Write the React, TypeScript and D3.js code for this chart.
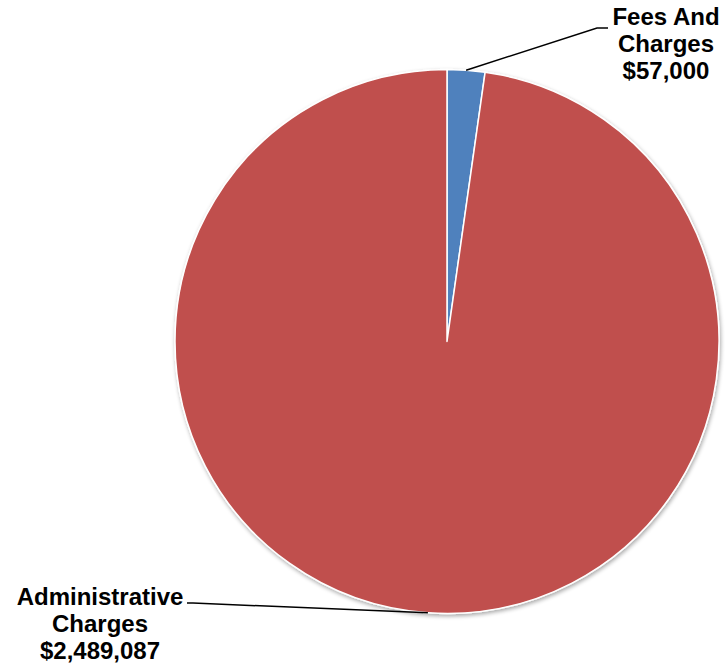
import React from "react";
import * as d3 from "d3";

const categories = ["Fees And Charges", "Administrative Charges"];
const values = [57000, 2489087];
const labelLines = [["Fees And", "Charges", "$57,000"], ["Administrative", "Charges", "$2,489,087"]];
const colors = ["#4F81BD", "#C0504D"];

export default function App() {
  const W = 725, H = 664;
  const cx = 447, cy = 341.5, r = 272;
  const pie = d3.pie<number>().sort(null).value((d) => d);
  const arcs = pie(values);
  const arc = d3.arc<d3.PieArcDatum<number>>().innerRadius(0).outerRadius(r);
  const edge = (a: d3.PieArcDatum<number>) => {
    const m = (a.startAngle + a.endAngle) / 2;
    return [cx + r * Math.sin(m), cy - r * Math.cos(m)];
  };
  const labelPos = [
    { x: 666, y: 25, line: (p: number[]) => `M${p[0]},${p[1]}L597,28L608,28` },
    { x: 100, y: 605, line: (p: number[]) => `M${p[0]},${p[1]}L193,603L187,603` },
  ];
  return (
    <svg width={W} height={H} style={{ position: "absolute", left: 0, top: 0 }}>
      <defs>
        <filter id="sh" x="-10%" y="-10%" width="120%" height="120%">
          <feGaussianBlur in="SourceAlpha" stdDeviation="2" />
          <feOffset dx="1" dy="2" result="b" />
          <feComponentTransfer><feFuncA type="linear" slope="0.35" /></feComponentTransfer>
          <feMerge><feMergeNode /><feMergeNode in="SourceGraphic" /></feMerge>
        </filter>
      </defs>
      <rect width={W} height={H} fill="#fff" />
      <g transform={`translate(${cx},${cy})`} filter="url(#sh)">
        {arcs.map((a, i) => (
          <path key={categories[i]} d={arc(a) || ""} fill={colors[i]} stroke="#fff" strokeWidth={1.5} strokeLinejoin="round" />
        ))}
      </g>
      {arcs.map((a, i) => (
        <path key={"l" + i} d={labelPos[i].line(edge(a))} fill="none" stroke="#000" strokeWidth={1.5} />
      ))}
      {labelLines.map((lines, i) => (
        <text key={"t" + i} textAnchor="middle" fontFamily="Liberation Sans, Arial, sans-serif" fontWeight="bold" fontSize={24} fill="#000">
          {lines.map((s, j) => (
            <tspan key={j} x={labelPos[i].x} y={labelPos[i].y + j * 27}>{s}</tspan>
          ))}
        </text>
      ))}
    </svg>
  );
}
